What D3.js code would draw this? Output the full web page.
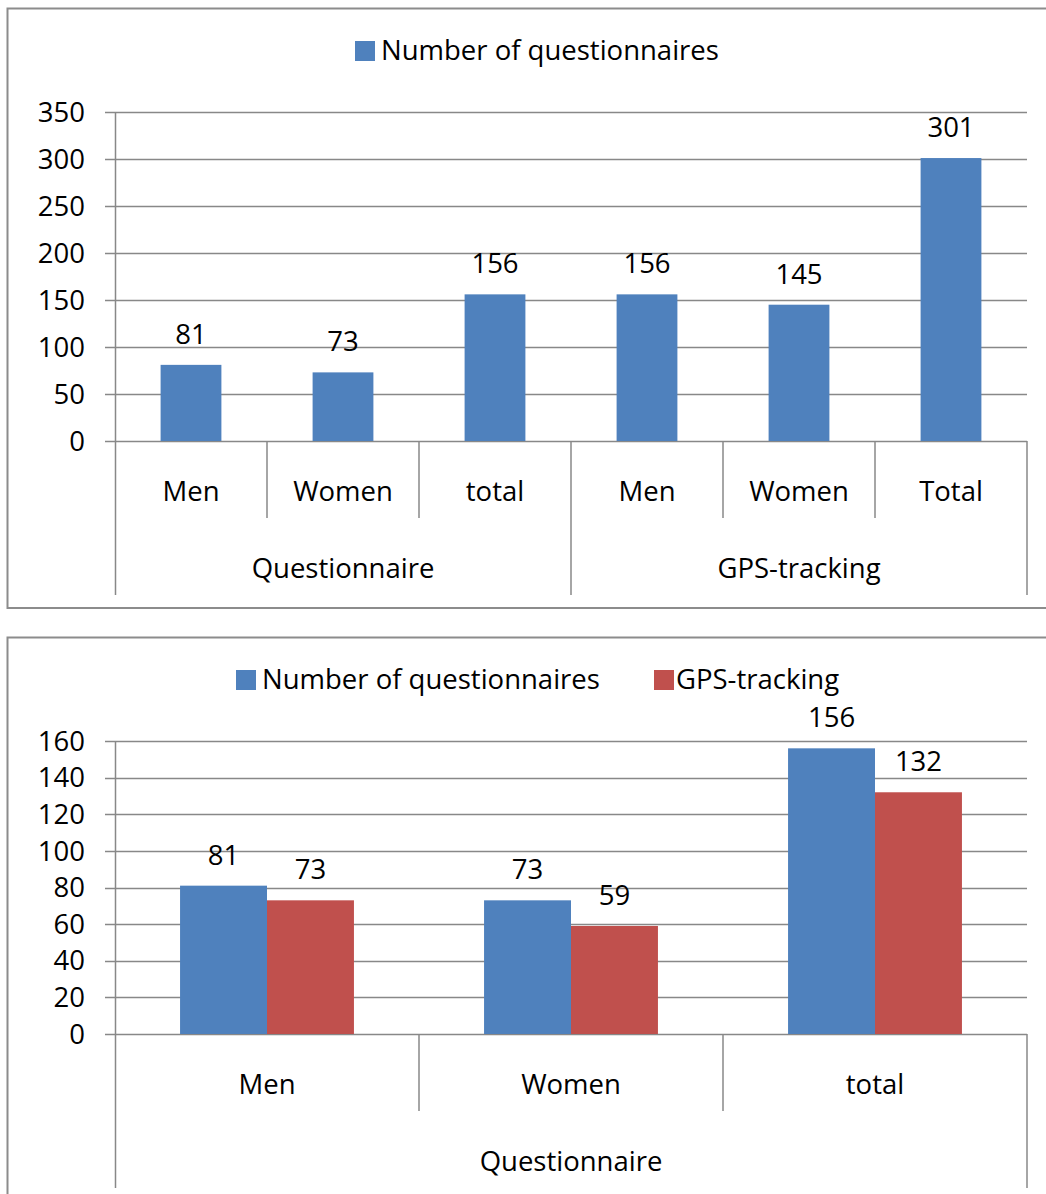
<!DOCTYPE html>
<meta charset="utf-8">
<style>
  body { margin: 0; background: #fff; }
  text { font-family: "Open Sans", sans-serif; fill: #000; }
</style>
<svg width="1046" height="1194"></svg>
<script src="https://cdn.jsdelivr.net/npm/d3@7"></script>
<script>

// top chart data
var topGroups = ["Questionnaire", "GPS-tracking"];
var topCats = ["Men", "Women", "total", "Men", "Women", "Total"];
var topGroupOf = [0, 0, 0, 1, 1, 1];
var topValues = [81, 73, 156, 156, 145, 301];
var topTicks = [0, 50, 100, 150, 200, 250, 300, 350];

// bottom chart data
var botCats = ["Men", "Women", "total"];
var botGroup = "Questionnaire";
var botSeries = ["Number of questionnaires", "GPS-tracking"];
var botQuest = [81, 73, 156];
var botGps = [73, 59, 132];
var botTicks = [0, 20, 40, 60, 80, 100, 120, 140, 160];

var blue = "#4f81bd", red = "#c0504d", grid = "#888", frame = "#8c8c8c";
var fs = 27.5;

var svg = d3.select("svg");

//---------- top chart ----------
var g1 = svg.append("g");
g1.append("rect").attr("x", 7.5).attr("y", 8.5).attr("width", 1100).attr("height", 599.5)
  .attr("fill", "none").attr("stroke", frame).attr("stroke-width", 2);

var y1 = d3.scaleLinear().domain([0, 350]).range([441, 112]);
var x1 = d3.scaleBand().domain(d3.range(topCats.length)).range([115, 1027])
  .paddingInner(0.6).paddingOuter(0.3);
var step1 = x1.step();

// gridlines
g1.append("g").selectAll("line").data(topTicks).enter().append("line")
  .attr("x1", 105).attr("x2", 1027)
  .attr("y1", function(d) { return Math.round(y1(d)) + 0.5; })
  .attr("y2", function(d) { return Math.round(y1(d)) + 0.5; })
  .attr("stroke", grid).attr("stroke-width", 1.5);
g1.append("g").selectAll("text").data(topTicks).enter().append("text")
  .attr("x", 85).attr("y", function(d) { return y1(d); })
  .attr("dy", "0.35em").attr("text-anchor", "end").attr("font-size", fs)
  .text(function(d) { return d; });

// bars
g1.append("g").selectAll("rect").data(topValues).enter().append("rect")
  .attr("x", function(d, i) { return x1(i); })
  .attr("width", x1.bandwidth())
  .attr("y", function(d) { return y1(d); })
  .attr("height", function(d) { return y1(0) - y1(d); })
  .attr("fill", blue);
g1.append("g").selectAll("text").data(topValues).enter().append("text")
  .attr("x", function(d, i) { return x1(i) + x1.bandwidth() / 2; })
  .attr("y", function(d) { return y1(d) - 21; })
  .attr("text-anchor", "middle").attr("font-size", fs)
  .text(function(d) { return d; });

// axis
g1.append("line").attr("x1", 115.5).attr("x2", 115.5).attr("y1", 112).attr("y2", 595)
  .attr("stroke", grid).attr("stroke-width", 1.5);
var cx0 = 115;
g1.append("g").selectAll("line").data(topCats).enter().append("line")
  .attr("x1", function(d, i) { return cx0 + step1 * (i + 1); })
  .attr("x2", function(d, i) { return cx0 + step1 * (i + 1); })
  .attr("y1", 441)
  .attr("y2", function(d, i) { return (i == 2 || i == 5) ? 595 : 518; })
  .attr("stroke", grid).attr("stroke-width", 1.5);
g1.append("g").selectAll("text").data(topCats).enter().append("text")
  .attr("x", function(d, i) { return cx0 + step1 * (i + 0.5); })
  .attr("y", 501).attr("text-anchor", "middle").attr("font-size", fs)
  .text(function(d) { return d; });
g1.append("g").selectAll("text").data(topGroups).enter().append("text")
  .attr("x", function(d, gi) {
    var idx = topGroupOf.map(function(v, i) { return v == gi ? i : -1; }).filter(function(i) { return i >= 0; });
    return cx0 + step1 * (idx[0] + idx[idx.length - 1] + 1) / 2;
  })
  .attr("y", 578).attr("text-anchor", "middle").attr("font-size", fs)
  .text(function(d) { return d; });

// legend
g1.append("rect").attr("x", 355).attr("y", 41).attr("width", 20).attr("height", 20).attr("fill", blue);
g1.append("text").attr("x", 381).attr("y", 60).attr("font-size", fs).text(botSeries[0]);

//---------- bottom chart ----------
var g2 = svg.append("g");
g2.append("rect").attr("x", 7.5).attr("y", 637.5).attr("width", 1100).attr("height", 700)
  .attr("fill", "none").attr("stroke", frame).attr("stroke-width", 2);

var y2 = d3.scaleLinear().domain([0, 160]).range([1034, 741]);
var x2 = d3.scaleBand().domain(botCats).range([115, 1027]);
var step2 = x2.step();
var xs = d3.scaleBand().domain(botSeries).range([step2 * 0.214, step2 * 0.786]);

g2.append("g").selectAll("line").data(botTicks).enter().append("line")
  .attr("x1", 105).attr("x2", 1027)
  .attr("y1", function(d) { return Math.round(y2(d)) + 0.5; })
  .attr("y2", function(d) { return Math.round(y2(d)) + 0.5; })
  .attr("stroke", grid).attr("stroke-width", 1.5);
g2.append("g").selectAll("text").data(botTicks).enter().append("text")
  .attr("x", 85).attr("y", function(d) { return y2(d); })
  .attr("dy", "0.35em").attr("text-anchor", "end").attr("font-size", fs)
  .text(function(d) { return d; });

var rows = botCats.map(function(c, i) {
  return [{cat: c, s: botSeries[0], v: botQuest[i]}, {cat: c, s: botSeries[1], v: botGps[i]}];
});
var colour = d3.scaleOrdinal().domain(botSeries).range([blue, red]);
var grp = g2.append("g").selectAll("g").data(rows).enter().append("g")
  .attr("transform", function(d) { return "translate(" + x2(d[0].cat) + ",0)"; });
grp.selectAll("rect").data(function(d) { return d; }).enter().append("rect")
  .attr("x", function(d) { return xs(d.s); })
  .attr("width", xs.bandwidth())
  .attr("y", function(d) { return y2(d.v); })
  .attr("height", function(d) { return y2(0) - y2(d.v); })
  .attr("fill", function(d) { return colour(d.s); });
grp.selectAll("text").data(function(d) { return d; }).enter().append("text")
  .attr("x", function(d) { return xs(d.s) + xs.bandwidth() / 2; })
  .attr("y", function(d) { return y2(d.v) - 21; })
  .attr("text-anchor", "middle").attr("font-size", fs)
  .text(function(d) { return d.v; });

g2.append("line").attr("x1", 115.5).attr("x2", 115.5).attr("y1", 741).attr("y2", 1188)
  .attr("stroke", grid).attr("stroke-width", 1.5);
g2.append("g").selectAll("line").data(botCats).enter().append("line")
  .attr("x1", function(d) { return x2(d) + step2; })
  .attr("x2", function(d) { return x2(d) + step2; })
  .attr("y1", 1034)
  .attr("y2", function(d, i) { return i == botCats.length - 1 ? 1188 : 1111; })
  .attr("stroke", grid).attr("stroke-width", 1.5);
g2.append("g").selectAll("text").data(botCats).enter().append("text")
  .attr("x", function(d) { return x2(d) + step2 / 2; })
  .attr("y", 1094).attr("text-anchor", "middle").attr("font-size", fs)
  .text(function(d) { return d; });
g2.append("text").attr("x", 571).attr("y", 1171).attr("text-anchor", "middle")
  .attr("font-size", fs).text(botGroup);

// legend
var leg = [{x: 236, tx: 262}, {x: 654, tx: 676}];
g2.append("g").selectAll("rect").data(botSeries).enter().append("rect")
  .attr("x", function(d, i) { return leg[i].x; }).attr("y", 670)
  .attr("width", 20).attr("height", 20).attr("fill", function(d) { return colour(d); });
g2.append("g").selectAll("text").data(botSeries).enter().append("text")
  .attr("x", function(d, i) { return leg[i].tx; }).attr("y", 689)
  .attr("font-size", fs).text(function(d) { return d; });

</script>
